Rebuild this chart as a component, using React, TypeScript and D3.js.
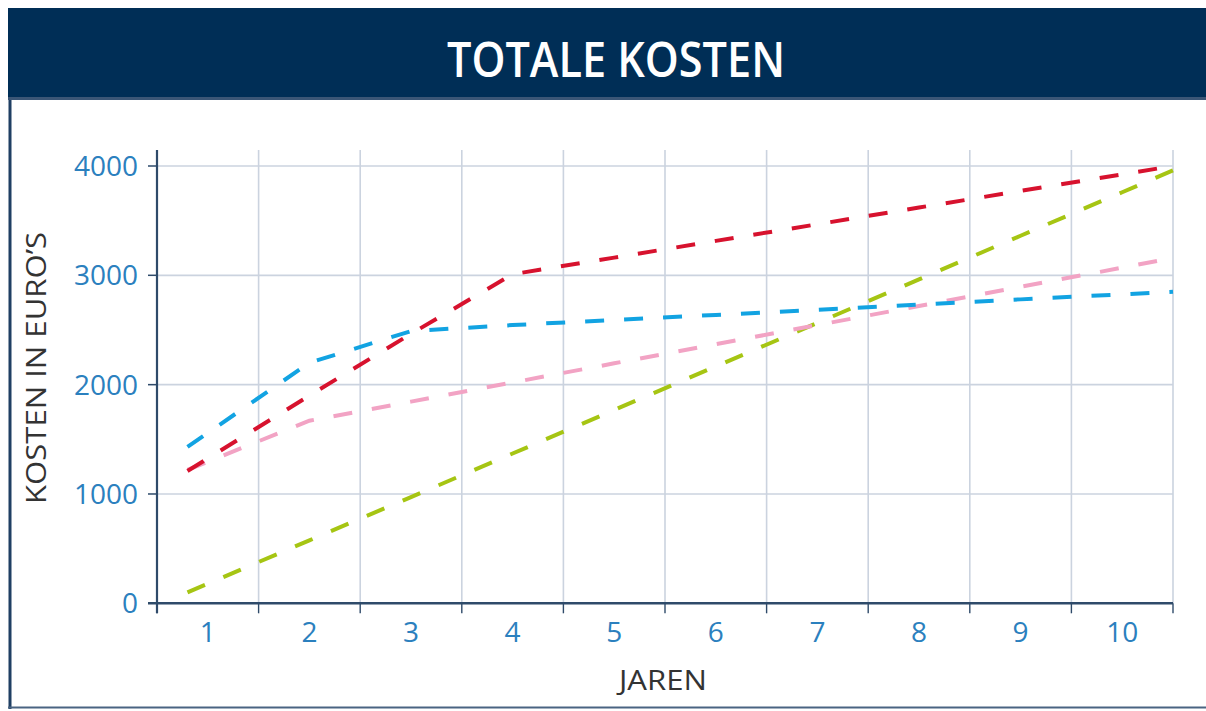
import React from "react";
import * as d3 from "d3";

const years = [1, 2, 3, 4, 5, 6, 7, 8, 9, 10];
const yTicks = [0, 1000, 2000, 3000, 4000];
const xPoints = [0.8, 2, 3, 4, 5, 6, 7, 8, 9, 10, 10.5];
const blueValues = [1430, 2200, 2490, 2545, 2592, 2638, 2685, 2732, 2780, 2826, 2850];
const redValues = [1210, 1900, 2465, 3010, 3162, 3315, 3467, 3620, 3772, 3924, 4000];
const pinkValues = [1220, 1670, 1845, 2020, 2195, 2370, 2545, 2720, 2895, 3070, 3160];
const greenValues = [100, 576, 972, 1370, 1768, 2167, 2565, 2963, 3362, 3760, 3960];

const seriesList = [
  { name: "groen", values: greenValues, color: "#A6C513" },
  { name: "roze", values: pinkValues, color: "#F2A3C4" },
  { name: "blauw", values: blueValues, color: "#12A3E2" },
  { name: "rood", values: redValues, color: "#D7122E" },
];

const title = "TOTALE KOSTEN";
const xTitle = "JAREN";
const yTitle = "KOSTEN IN EURO\u2019S";

export default function App() {
  const W = 1206;
  const H = 711;
  const left = 157;
  const right = 1173;
  const top = 166;
  const bottom = 603.3;

  const x = d3.scaleLinear().domain([0.5, 10.5]).range([left, right]);
  const y = d3.scaleLinear().domain([0, 4000]).range([bottom, top]);

  const line = d3
    .line<number>()
    .x((_, i) => x(xPoints[i]))
    .y((d) => y(d));

  const edges = d3.range(0.5, 11, 1);
  const gridColor = "#CBD3DF";
  const axisColor = "#2F4B6A";
  const tickText = "#2B80BE";
  const font = "'Open Sans', 'DejaVu Sans', sans-serif";

  return (
    <svg
      width={W}
      height={H}
      style={{ position: "absolute", left: 0, top: 0, background: "#fff" }}
      fontFamily={font}
    >
      {/* header */}
      <rect x={8} y={8} width={W - 8} height={92} fill="#002E56" />
      <rect x={8} y={97} width={W - 8} height={3} fill="#3B5676" />
      <text
        x={616}
        y={77}
        textAnchor="middle"
        fill="#ffffff"
        fontSize={48}
        fontWeight={600}
        textLength={338}
        lengthAdjust="spacingAndGlyphs"
      >
        {title}
      </text>
      {/* frame */}
      <line x1={10} x2={10} y1={100} y2={709} stroke="#1F3F63" strokeWidth={3} />
      <line x1={8} x2={W} y1={707.5} y2={707.5} stroke="#4A6482" strokeWidth={2} />

      {/* grid */}
      {yTicks.slice(1).map((t) => (
        <line key={"h" + t} x1={148} x2={right} y1={y(t)} y2={y(t)} stroke={gridColor} strokeWidth={1.6} />
      ))}
      {edges.slice(1).map((e) => (
        <line key={"v" + e} x1={x(e)} x2={x(e)} y1={150} y2={bottom} stroke={gridColor} strokeWidth={1.6} />
      ))}

      {/* axes */}
      <line x1={left} x2={left} y1={150} y2={bottom + 10} stroke={axisColor} strokeWidth={2.2} />
      <line x1={148} x2={right} y1={bottom} y2={bottom} stroke={axisColor} strokeWidth={2.4} />
      {yTicks.map((t) => (
        <line key={"yt" + t} x1={148} x2={left} y1={y(t)} y2={y(t)} stroke={axisColor} strokeWidth={1.4} />
      ))}
      {edges.map((e) => (
        <line key={"xt" + e} x1={x(e)} x2={x(e)} y1={bottom} y2={bottom + 10} stroke={axisColor} strokeWidth={1.4} />
      ))}

      {/* tick labels */}
      {yTicks.map((t) => (
        <text key={"yl" + t} x={138} y={y(t) + 10} textAnchor="end" fill={tickText} fontSize={28}>
          {t}
        </text>
      ))}
      {years.map((yr) => (
        <text key={"xl" + yr} x={x(yr)} y={642} textAnchor="middle" fill={tickText} fontSize={28}>
          {yr}
        </text>
      ))}

      {/* axis titles */}
      <text x={663} y={690} textAnchor="middle" fill="#333333" fontSize={28} textLength={88} lengthAdjust="spacingAndGlyphs">
        {xTitle}
      </text>
      <text
        transform="translate(46,368) rotate(-90)"
        textAnchor="middle"
        fill="#333333"
        fontSize={28}
        textLength={272}
        lengthAdjust="spacingAndGlyphs"
      >
        {yTitle}
      </text>

      {/* series */}
      {seriesList.map((s) => (
        <path
          key={s.name}
          d={line(s.values) || ""}
          fill="none"
          stroke={s.color}
          strokeWidth={4}
          strokeDasharray="19 20"
        />
      ))}
    </svg>
  );
}
